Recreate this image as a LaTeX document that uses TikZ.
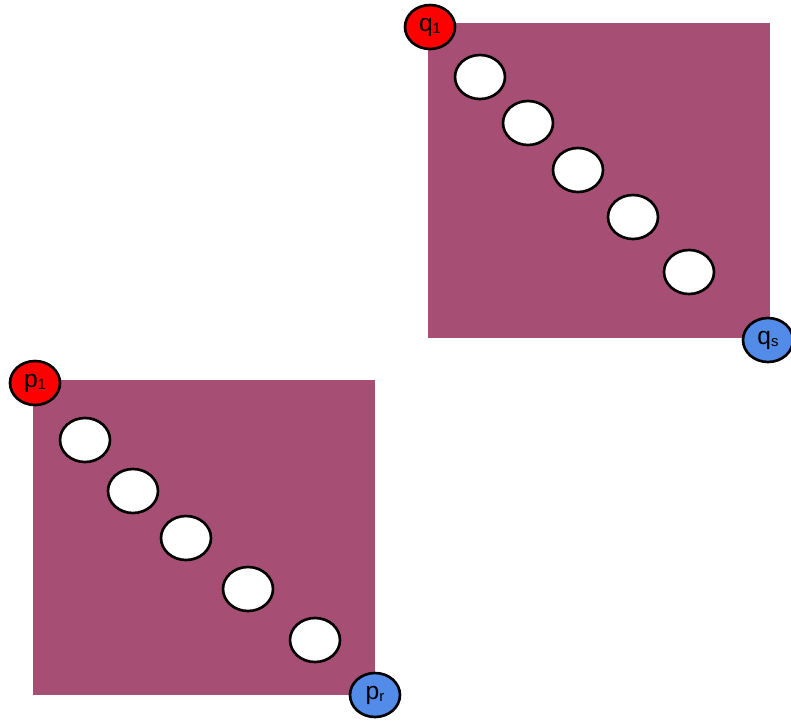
\documentclass[tikz,border=0pt]{standalone}
\usepackage{fontspec}
\setmainfont{Liberation Sans}
\usetikzlibrary{shapes.geometric}
\definecolor{plum}{RGB}{166,78,116}
\definecolor{headred}{RGB}{255,0,0}
\definecolor{tailblue}{RGB}{82,140,232}
\newcommand{\vlab}[2]{#1\raisebox{-0.2ex}{\fontsize{8.5}{9}\selectfont #2}}
\tikzset{
	dot/.style={ellipse,draw,line width=1.5pt,fill=white,minimum width=1cm,minimum height=0.88cm,inner sep=0pt},
	head/.style={dot,fill=headred,font=\fontsize{14}{15}\selectfont},
	tail/.style={dot,fill=tailblue,font=\fontsize{14}{15}\selectfont}
}
\begin{document}
\begin{tikzpicture}[x=0.02cm,y=-0.02cm]
		\useasboundingbox (0,0) rectangle (791,721);
		% the two blocks
		\fill[plum] (428,23) rectangle (770,338);
		\fill[plum] (33,380) rectangle (375,695);
		% inner points along the diagonals
		\foreach \x/\y [count=\i] in {480/77,528/123,578/170,633/217,689/272}
			\node[dot] (top\i) at (\x,\y) {};
		\foreach \x/\y [count=\i] in {85/440,133/491,186/538,248/589,315/640}
			\node[dot] (bot\i) at (\x,\y) {};
		% corner points
		\node[head] (q1) at (430,27) {\vlab{q}{1}};
		\node[tail] (qs) at (768,340) {\vlab{q}{s}};
		\node[head] (p1) at (35,383) {\vlab{p}{1}};
		\node[tail] (pr) at (375,695) {\vlab{p}{r}};
\end{tikzpicture}
\end{document}
